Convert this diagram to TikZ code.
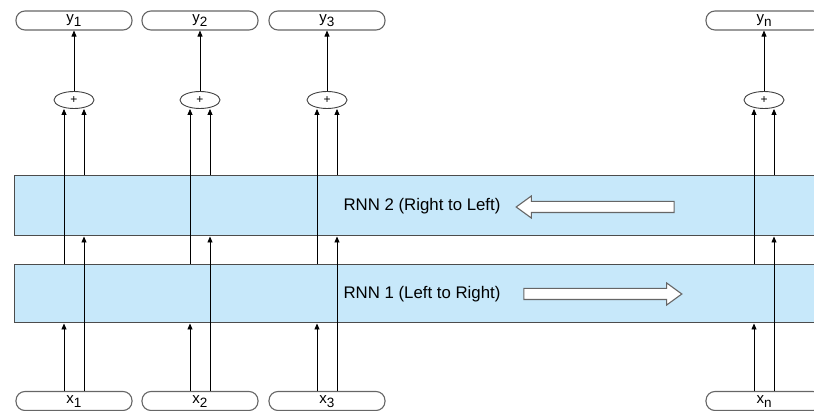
\documentclass[tikz,border=0pt]{standalone}
\usepackage{fontspec}
\setmainfont{Liberation Sans}
\usetikzlibrary{positioning,shapes.geometric,shapes.arrows,arrows.meta}
\definecolor{bandblue}{RGB}{199,232,250}
\newcommand{\lowidx}[1]{\raisebox{-0.55ex}{\fontsize{13.5}{13.5}\selectfont #1}}

\begin{document}
\begin{tikzpicture}[x=1pt,y=-1pt,
  iobox/.style={draw=black!60,line width=1.1pt,rounded corners=9pt,minimum width=116pt,minimum height=19pt,inner sep=0pt,text height=9pt,text depth=5pt,font=\fontsize{15}{15}\selectfont},
  plusnode/.style={ellipse,draw=black!75,line width=0.9pt,minimum width=40pt,minimum height=17pt,inner sep=0pt,font=\fontsize{12}{12}\selectfont},
  band/.style={draw=black!70,line width=1pt,fill=bandblue,minimum width=816pt,inner sep=0pt,font=\fontsize{16.8}{16.8}\selectfont},
  flow/.style={single arrow,draw=black!60,fill=white,line width=1.1pt,minimum height=158pt,minimum width=21pt,single arrow head extend=5.5pt,single arrow tip angle=72,inner sep=5pt},
  feed/.style={-{Triangle[length=6pt,width=5pt]},line width=0.8pt}]
\useasboundingbox (0,0) rectangle (814,411);
\clip (0,0) rectangle (814,411);

% the two recurrent layers
\node[band,minimum height=60pt] (rnn2) at (422,206) {RNN 2 (Right to Left)};
\node[band,minimum height=58pt] (rnn1) at (422,294) {RNN 1 (Left to Right)};
\node[flow,shape border rotate=180] (back) at (599,207) {};
\node[flow] (fwd) at (599,294) {};

% inputs, sums and outputs
\foreach \i/\cx/\lab in {1/74/1,2/200/2,3/327/3,n/764/n} {
  \node[iobox] (y\i) at (\cx,20.5) {y\lowidx{\lab}};
  \node[plusnode] (p\i) at (\cx,100) {+};
  \node[iobox] (x\i) at (\cx,401) {x\lowidx{\lab}};
}

\foreach \i in {1,2,3,n} {
  \draw[feed] (p\i) -- (y\i);
  \draw[feed] ([xshift=-10pt]x\i.north) -- ([xshift=-10pt]x\i.north |- rnn1.south);
  \draw[feed] ([xshift=10pt]x\i.north) -- ([xshift=10pt]x\i.north |- rnn2.south);
  \draw[feed] ([xshift=-10pt]x\i.north |- rnn1.north) -- ([xshift=-10pt]p\i.south);
  \draw[feed] ([xshift=10pt]x\i.north |- rnn2.north) -- ([xshift=10pt]p\i.south);
}
\end{tikzpicture}
\end{document}
